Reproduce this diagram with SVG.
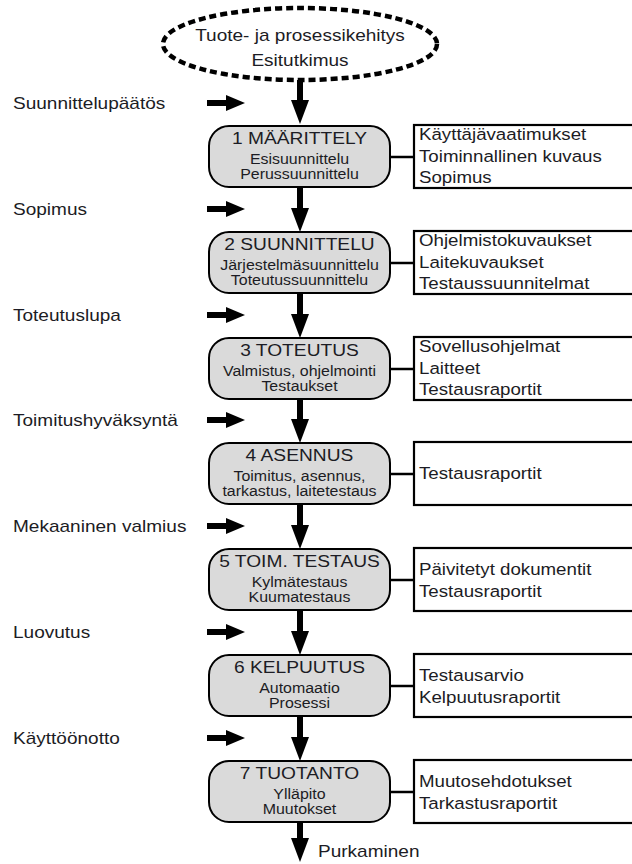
<svg xmlns="http://www.w3.org/2000/svg" width="632" height="864" viewBox="0 0 632 864">
<style>
text{font-family:"Liberation Sans",Arial,sans-serif;fill:#1c1c24}
.t{font-size:17px;text-anchor:middle}
.s{font-size:14.5px;text-anchor:middle}
.r{font-size:17px}
.l{font-size:17px}
.box{fill:#dadada;stroke:#000;stroke-width:2}
.tb{fill:#fff;stroke:#000;stroke-width:2.2}
.ln{stroke:#000;stroke-width:2.5}
.a{fill:#000}
</style>
<rect width="632" height="864" fill="#fff"/>
<g id="start">
<ellipse cx="300" cy="44" rx="137" ry="36" fill="#fff" stroke="#000" stroke-width="4.5" stroke-dasharray="7 4"/>
<text class="t" transform="translate(300,41) scale(1.12,1)">Tuote- ja prosessikehitys</text>
<text class="t" transform="translate(300,66) scale(1.12,1)">Esitutkimus</text>
</g>
<g id="connectors">
<path class="a" d="M297,80H303V100H309L300,124L291,100H297Z"/>
<path class="a" d="M297,187H303V208H309L300,232L291,208H297Z"/>
<path class="a" d="M297,293H303V314H309L300,338L291,314H297Z"/>
<path class="a" d="M297,399H303V419H309L300,443L291,419H297Z"/>
<path class="a" d="M297,504H303V525H309L300,549L291,525H297Z"/>
<path class="a" d="M297,610H303V631H309L300,655L291,631H297Z"/>
<path class="a" d="M297,716H303V737H309L300,761L291,737H297Z"/>
<path class="a" d="M297,822H303V838H309L300,862L291,838H297Z"/>
<path class="a" d="M207,100H226V95L245,103L226,111V106H207Z"/>
<path class="a" d="M207,206H226V201L245,209L226,217V212H207Z"/>
<path class="a" d="M207,312H226V307L245,315L226,323V318H207Z"/>
<path class="a" d="M207,417H226V412L245,420L226,428V423H207Z"/>
<path class="a" d="M207,523H226V518L245,526L226,534V529H207Z"/>
<path class="a" d="M207,629H226V624L245,632L226,640V635H207Z"/>
<path class="a" d="M207,735H226V730L245,738L226,746V741H207Z"/>
<line class="ln" x1="390" y1="157" x2="414" y2="157"/>
<line class="ln" x1="390" y1="263" x2="414" y2="263"/>
<line class="ln" x1="390" y1="369" x2="414" y2="369"/>
<line class="ln" x1="390" y1="474" x2="414" y2="474"/>
<line class="ln" x1="390" y1="580" x2="414" y2="580"/>
<line class="ln" x1="390" y1="686" x2="414" y2="686"/>
<line class="ln" x1="390" y1="792" x2="414" y2="792"/>
</g>
<g id="labels">
<text class="l" transform="translate(13,108.5) scale(1.12,1)">Suunnittelupäätös</text>
<text class="l" transform="translate(13,214.5) scale(1.12,1)">Sopimus</text>
<text class="l" transform="translate(13,320.5) scale(1.12,1)">Toteutuslupa</text>
<text class="l" transform="translate(13,425.5) scale(1.12,1)">Toimitushyväksyntä</text>
<text class="l" transform="translate(13,531.5) scale(1.12,1)">Mekaaninen valmius</text>
<text class="l" transform="translate(13,637.5) scale(1.12,1)">Luovutus</text>
<text class="l" transform="translate(13,743.5) scale(1.12,1)">Käyttöönotto</text>
<text class="l" transform="translate(318,857) scale(1.12,1)">Purkaminen</text>
</g>
<g id="n1">
<rect class="box" x="209" y="126" width="181" height="61" rx="20"/>
<text class="t" transform="translate(299.5,144) scale(1.13,1)">1 MÄÄRITTELY</text>
<text class="s" transform="translate(299.5,163.5) scale(1.1,1)">Esisuunnittelu</text>
<text class="s" transform="translate(299.5,179) scale(1.1,1)">Perussuunnittelu</text>
</g>
<g id="d1">
<rect class="tb" x="414" y="125" width="230" height="63"/>
<text class="r" transform="translate(419,140) scale(1.1,1)">Käyttäjävaatimukset</text>
<text class="r" transform="translate(419,161.5) scale(1.1,1)">Toiminnallinen kuvaus</text>
<text class="r" transform="translate(419,183) scale(1.1,1)">Sopimus</text>
</g>
<g id="n2">
<rect class="box" x="209" y="232" width="181" height="61" rx="20"/>
<text class="t" transform="translate(299.5,250) scale(1.13,1)">2 SUUNNITTELU</text>
<text class="s" transform="translate(299.5,269.5) scale(1.1,1)">Järjestelmäsuunnittelu</text>
<text class="s" transform="translate(299.5,285) scale(1.1,1)">Toteutussuunnittelu</text>
</g>
<g id="d2">
<rect class="tb" x="414" y="231" width="230" height="63"/>
<text class="r" transform="translate(419,246) scale(1.1,1)">Ohjelmistokuvaukset</text>
<text class="r" transform="translate(419,267.5) scale(1.1,1)">Laitekuvaukset</text>
<text class="r" transform="translate(419,289) scale(1.1,1)">Testaussuunnitelmat</text>
</g>
<g id="n3">
<rect class="box" x="209" y="338" width="181" height="61" rx="20"/>
<text class="t" transform="translate(299.5,356) scale(1.13,1)">3 TOTEUTUS</text>
<text class="s" transform="translate(299.5,375.5) scale(1.1,1)">Valmistus, ohjelmointi</text>
<text class="s" transform="translate(299.5,391) scale(1.1,1)">Testaukset</text>
</g>
<g id="d3">
<rect class="tb" x="414" y="337" width="230" height="63"/>
<text class="r" transform="translate(419,352) scale(1.1,1)">Sovellusohjelmat</text>
<text class="r" transform="translate(419,373.5) scale(1.1,1)">Laitteet</text>
<text class="r" transform="translate(419,395) scale(1.1,1)">Testausraportit</text>
</g>
<g id="n4">
<rect class="box" x="209" y="443" width="181" height="61" rx="20"/>
<text class="t" transform="translate(299.5,461) scale(1.13,1)">4 ASENNUS</text>
<text class="s" transform="translate(299.5,480.5) scale(1.1,1)">Toimitus, asennus,</text>
<text class="s" transform="translate(299.5,496) scale(1.1,1)">tarkastus, laitetestaus</text>
</g>
<g id="d4">
<rect class="tb" x="414" y="442" width="230" height="63"/>
<text class="r" transform="translate(419,479) scale(1.1,1)">Testausraportit</text>
</g>
<g id="n5">
<rect class="box" x="209" y="549" width="181" height="61" rx="20"/>
<text class="t" transform="translate(299.5,567) scale(1.13,1)">5 TOIM. TESTAUS</text>
<text class="s" transform="translate(299.5,586.5) scale(1.1,1)">Kylmätestaus</text>
<text class="s" transform="translate(299.5,602) scale(1.1,1)">Kuumatestaus</text>
</g>
<g id="d5">
<rect class="tb" x="414" y="548" width="230" height="63"/>
<text class="r" transform="translate(419,575) scale(1.1,1)">Päivitetyt dokumentit</text>
<text class="r" transform="translate(419,597) scale(1.1,1)">Testausraportit</text>
</g>
<g id="n6">
<rect class="box" x="209" y="655" width="181" height="61" rx="20"/>
<text class="t" transform="translate(299.5,673) scale(1.13,1)">6 KELPUUTUS</text>
<text class="s" transform="translate(299.5,692.5) scale(1.1,1)">Automaatio</text>
<text class="s" transform="translate(299.5,708) scale(1.1,1)">Prosessi</text>
</g>
<g id="d6">
<rect class="tb" x="414" y="654" width="230" height="63"/>
<text class="r" transform="translate(419,681) scale(1.1,1)">Testausarvio</text>
<text class="r" transform="translate(419,703) scale(1.1,1)">Kelpuutusraportit</text>
</g>
<g id="n7">
<rect class="box" x="209" y="761" width="181" height="61" rx="20"/>
<text class="t" transform="translate(299.5,779) scale(1.13,1)">7 TUOTANTO</text>
<text class="s" transform="translate(299.5,798.5) scale(1.1,1)">Ylläpito</text>
<text class="s" transform="translate(299.5,814) scale(1.1,1)">Muutokset</text>
</g>
<g id="d7">
<rect class="tb" x="414" y="760" width="230" height="63"/>
<text class="r" transform="translate(419,787) scale(1.1,1)">Muutosehdotukset</text>
<text class="r" transform="translate(419,809) scale(1.1,1)">Tarkastusraportit</text>
</g>
</svg>
